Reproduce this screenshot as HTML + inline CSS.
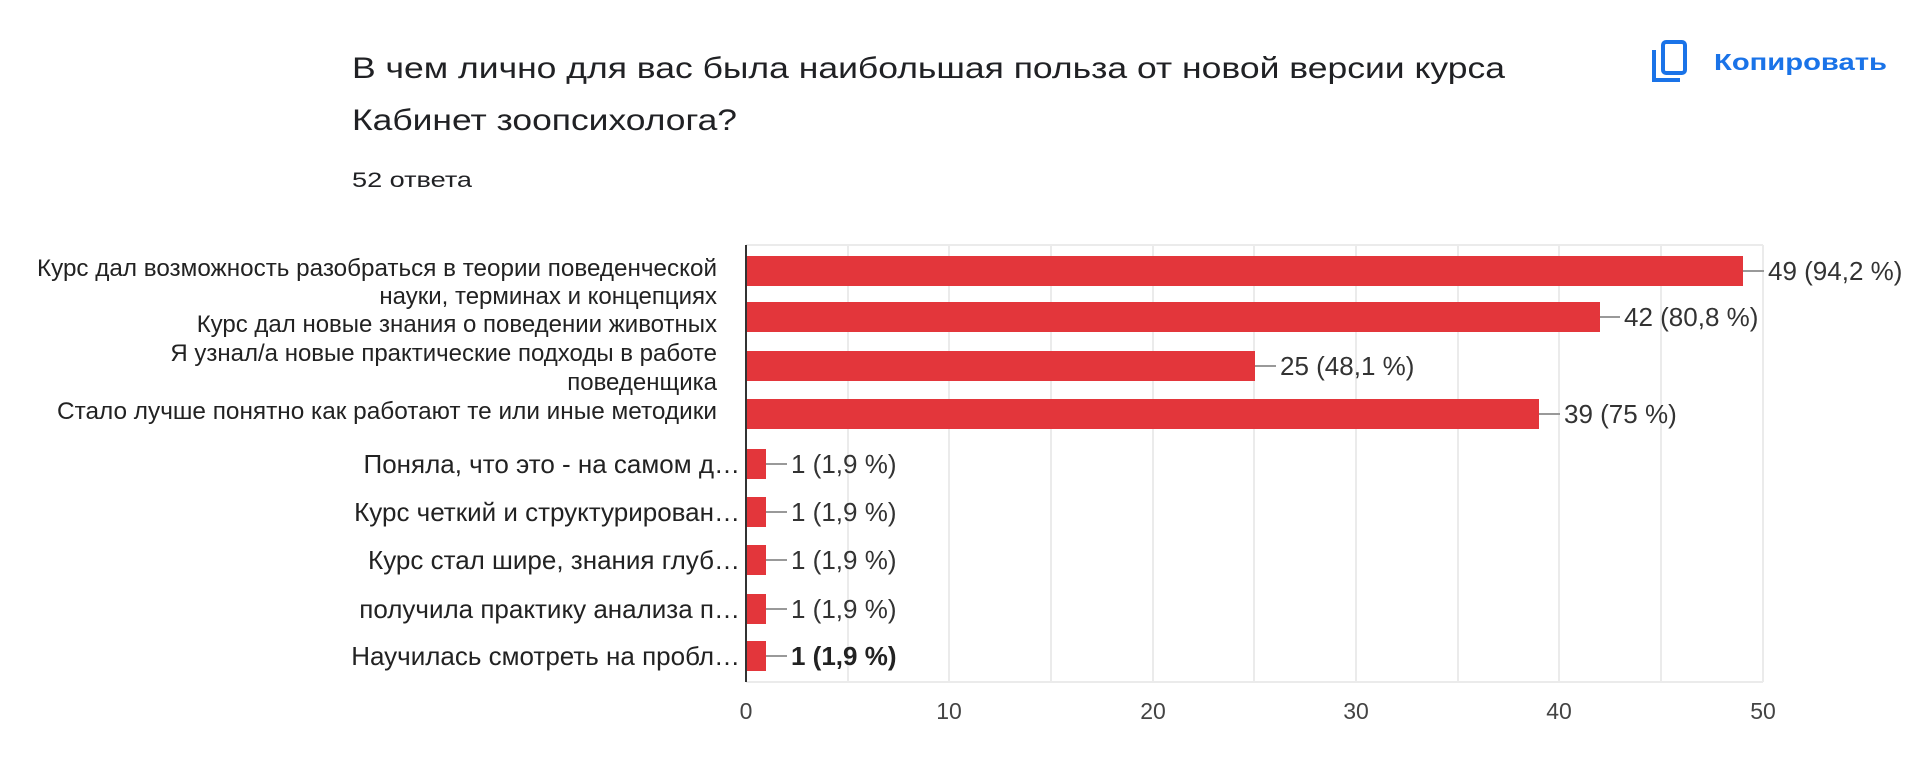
<!DOCTYPE html>
<html><head><meta charset="utf-8"><style>
html,body{margin:0;padding:0;background:#fff;width:1920px;height:767px;overflow:hidden}
svg{display:block}
text{font-family:"Liberation Sans",Arial,sans-serif}
</style></head><body>
<svg width="1920" height="767" viewBox="0 0 1920 767" xmlns="http://www.w3.org/2000/svg">
<text x="352" y="78" font-size="30" fill="#202124" textLength="1153" lengthAdjust="spacingAndGlyphs">В чем лично для вас была наибольшая польза от новой версии курса</text>
<text x="352" y="130" font-size="30" fill="#202124" textLength="385" lengthAdjust="spacingAndGlyphs">Кабинет зоопсихолога?</text>
<text x="352" y="187" font-size="21" fill="#202124" textLength="120" lengthAdjust="spacingAndGlyphs">52 ответа</text>
<g fill="none" stroke="#1a73e8" stroke-width="4">
<rect x="1663" y="42" width="22" height="31" rx="3"/>
<path d="M1654 50 V80 H1680"/>
</g>
<text x="1714" y="70" font-size="23" font-weight="bold" fill="#1a73e8" textLength="173" lengthAdjust="spacingAndGlyphs">Копировать</text>
<g stroke="#ebebeb" stroke-width="2">
<line x1="746" y1="245" x2="1763" y2="245"/>
<line x1="746" y1="682" x2="1763" y2="682"/>
<line x1="848" y1="245" x2="848" y2="682"/>
<line x1="949" y1="245" x2="949" y2="682"/>
<line x1="1051" y1="245" x2="1051" y2="682"/>
<line x1="1153" y1="245" x2="1153" y2="682"/>
<line x1="1254" y1="245" x2="1254" y2="682"/>
<line x1="1356" y1="245" x2="1356" y2="682"/>
<line x1="1458" y1="245" x2="1458" y2="682"/>
<line x1="1559" y1="245" x2="1559" y2="682"/>
<line x1="1661" y1="245" x2="1661" y2="682"/>
<line x1="1763" y1="245" x2="1763" y2="682"/>
</g>
<g fill="#e3363b">
<rect x="746" y="256" width="997" height="30"/>
<rect x="746" y="302" width="854" height="30"/>
<rect x="746" y="351" width="509" height="30"/>
<rect x="746" y="399" width="793" height="30"/>
<rect x="746" y="449" width="20" height="30"/>
<rect x="746" y="497" width="20" height="30"/>
<rect x="746" y="545" width="20" height="30"/>
<rect x="746" y="594" width="20" height="30"/>
<rect x="746" y="641" width="20" height="30"/>
</g>
<line x1="746" y1="245" x2="746" y2="682" stroke="#333" stroke-width="2"/>
<g stroke="#999" stroke-width="2">
<line x1="1743" y1="271" x2="1764" y2="271"/>
<line x1="1600" y1="317" x2="1620" y2="317"/>
<line x1="1255" y1="366" x2="1276" y2="366"/>
<line x1="1539" y1="414" x2="1560" y2="414"/>
<line x1="766" y1="464" x2="787" y2="464"/>
<line x1="766" y1="512" x2="787" y2="512"/>
<line x1="766" y1="560" x2="787" y2="560"/>
<line x1="766" y1="609" x2="787" y2="609"/>
<line x1="766" y1="656" x2="787" y2="656"/>
</g>
<g font-size="26" fill="#333">
<text x="1768" y="280">49 (94,2 %)</text>
<text x="1624" y="326">42 (80,8 %)</text>
<text x="1280" y="375">25 (48,1 %)</text>
<text x="1564" y="423">39 (75 %)</text>
<text x="791" y="473">1 (1,9 %)</text>
<text x="791" y="521">1 (1,9 %)</text>
<text x="791" y="569">1 (1,9 %)</text>
<text x="791" y="618">1 (1,9 %)</text>
<text x="791" y="665" font-weight="bold" fill="#222">1 (1,9 %)</text>
</g>
<g font-size="24" fill="#222" text-anchor="end">
<text x="717" y="276" textLength="680" lengthAdjust="spacingAndGlyphs">Курс дал возможность разобраться в теории поведенческой</text>
<text x="717" y="304">науки, терминах и концепциях</text>
<text x="717" y="332">Курс дал новые знания о поведении животных</text>
<text x="717" y="361">Я узнал/а новые практические подходы в работе</text>
<text x="717" y="390">поведенщика</text>
<text x="717" y="419" textLength="660" lengthAdjust="spacingAndGlyphs">Стало лучше понятно как работают те или иные методики</text>
</g>
<g font-size="26" fill="#222" text-anchor="end">
<text x="740" y="473">Поняла, что это - на самом д…</text>
<text x="740" y="521">Курс четкий и структурирован…</text>
<text x="740" y="569">Курс стал шире, знания глуб…</text>
<text x="740" y="618">получила практику анализа п…</text>
<text x="740" y="665">Научилась смотреть на пробл…</text>
</g>
<g font-size="23" fill="#444" text-anchor="middle">
<text x="746" y="719">0</text>
<text x="949" y="719">10</text>
<text x="1153" y="719">20</text>
<text x="1356" y="719">30</text>
<text x="1559" y="719">40</text>
<text x="1763" y="719">50</text>
</g>
</svg>
</body></html>
